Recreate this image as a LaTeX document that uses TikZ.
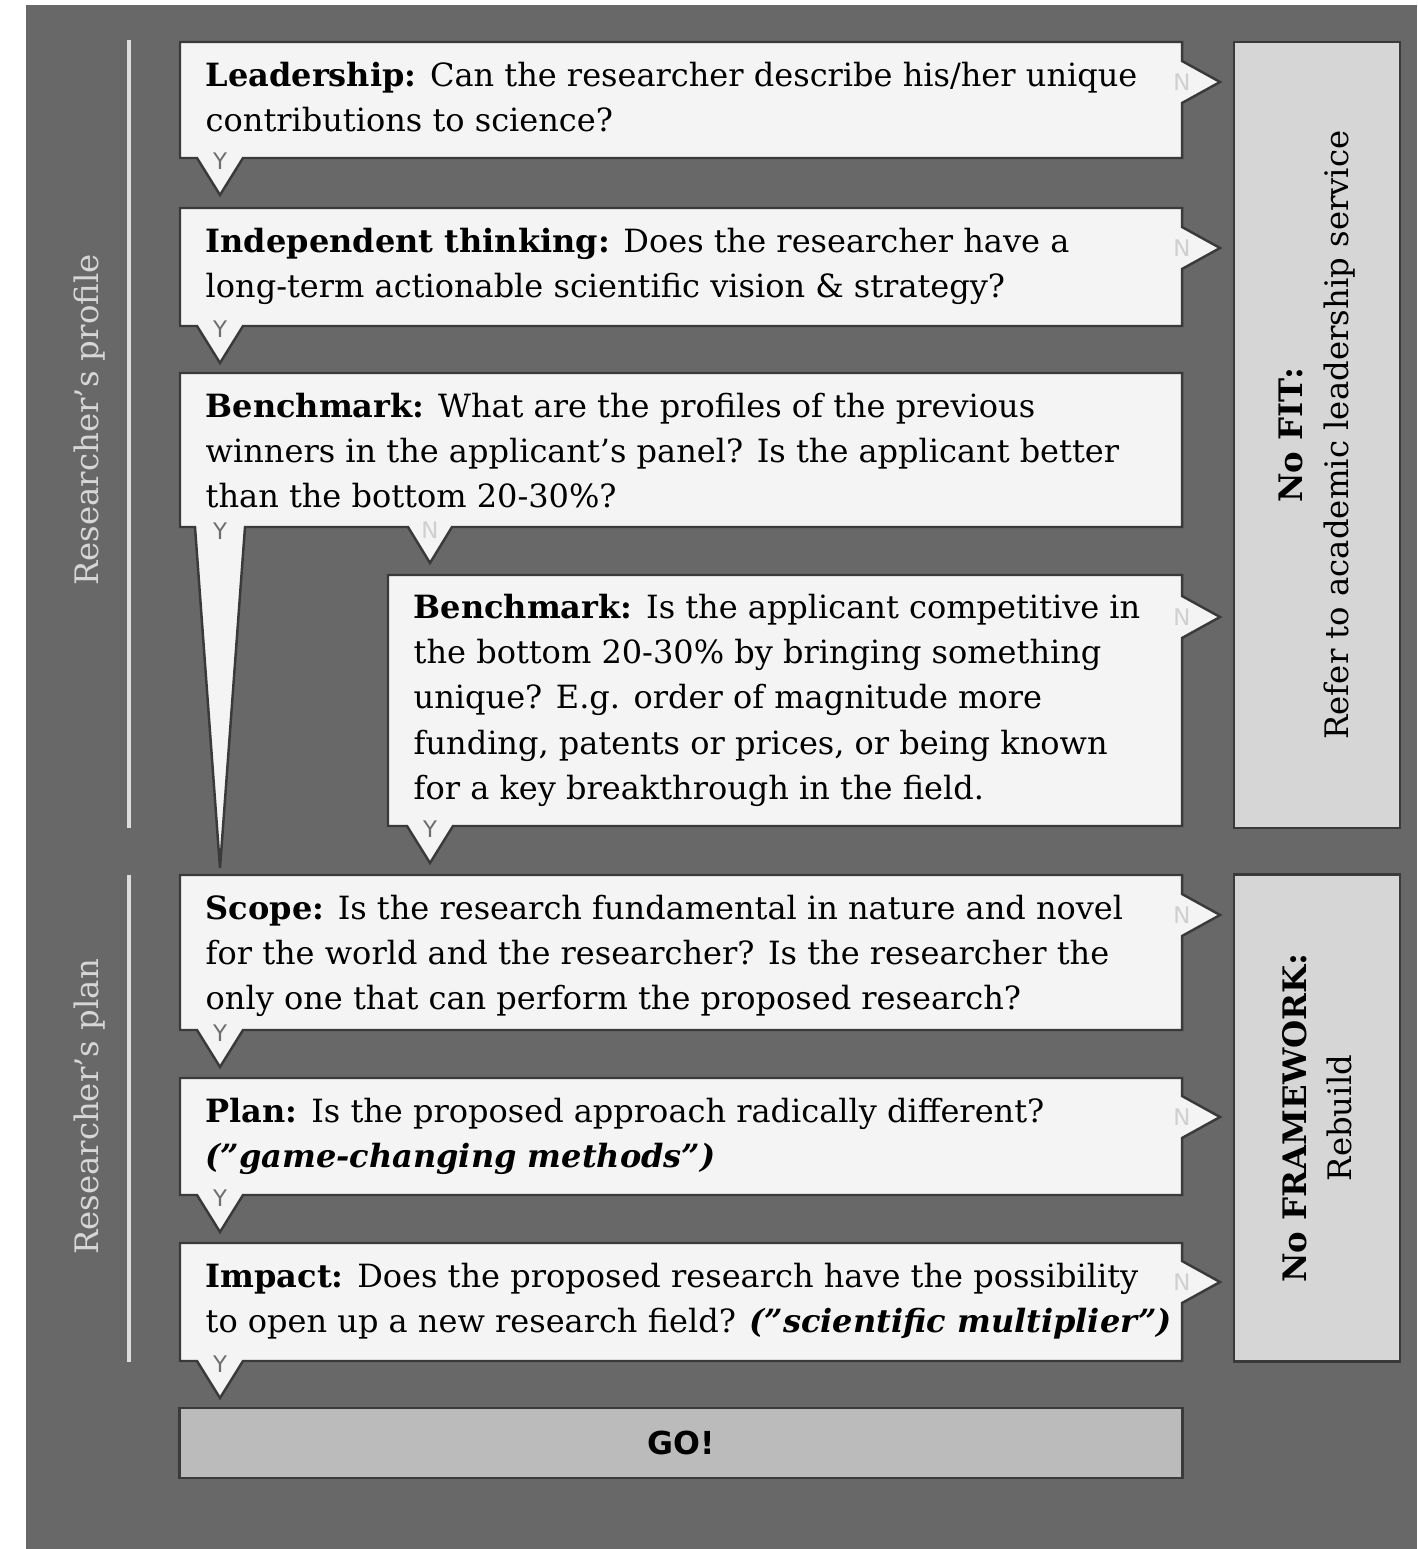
\documentclass[tikz,border=0pt]{standalone}
\usepackage{fontspec}
\setmainfont{DejaVu Serif}
\setsansfont{DejaVu Sans}
\usetikzlibrary{positioning}
\definecolor{bggray}{HTML}{686868}
\definecolor{boxfill}{HTML}{F4F4F4}
\definecolor{boxline}{HTML}{3A3A3A}
\definecolor{gofill}{HTML}{BBBBBB}
\definecolor{nofill}{HTML}{D6D6D6}
\definecolor{sideline}{HTML}{DDDDDD}
\definecolor{sidetext}{HTML}{D6D6D6}
\definecolor{ygray}{HTML}{6E6E6E}
\definecolor{ngray}{HTML}{CFCFCF}

\begin{document}
\begin{tikzpicture}[x=0.01cm, y=-0.01cm]
\tikzstyle{qbox}=[draw=boxline, fill=boxfill, line width=0.7pt, line join=miter]
\tikzstyle{qtext}=[anchor=north west, inner sep=0, align=left, font=\fontsize{9.1}{12.9}\selectfont]
\tikzstyle{yestag}=[inner sep=0, text=ygray, font=\sffamily\fontsize{6.5}{7}\selectfont]
\tikzstyle{notag}=[inner sep=0, text=ngray, font=\sffamily\fontsize{6.5}{7}\selectfont]
\tikzstyle{sidetext}=[rotate=90, inner sep=0, text=sidetext, font=\fontsize{9.2}{12.9}\selectfont]
\tikzstyle{endbox}=[draw=boxline, line width=0.7pt, rotate=90, align=center, inner sep=0, minimum height=1.66cm, font=\fontsize{9.2}{12.9}\selectfont]

\useasboundingbox (0,0) rectangle (1417,1549);
\fill[bggray] (26,5) rectangle (1417,1549);

% section rules and labels
\draw[sideline, line width=0.9pt] (129,40) -- (129,828);
\draw[sideline, line width=0.9pt] (129,875) -- (129,1362);
\node[sidetext] (profile) at (90,420) {Researcher’s profile};
\node[sidetext] (planside) at (90,1107) {Researcher’s plan};

% question boxes
\draw[qbox] (180,42) -- (1182,42) -- (1182,61) -- (1220,82) -- (1182,103) -- (1182,158) -- (243,158) -- (220,195) -- (197,158) -- (180,158) -- cycle;
\draw[qbox] (180,208) -- (1182,208) -- (1182,227) -- (1220,248) -- (1182,269) -- (1182,326) -- (243,326) -- (220,363) -- (197,326) -- (180,326) -- cycle;
\draw[qbox] (180,373) -- (1182,373) -- (1182,527) -- (452,527) -- (430,563) -- (408,527) -- (245,527) -- (220,868) -- (195,527) -- (180,527) -- cycle;
\draw[qbox] (388,575) -- (1182,575) -- (1182,596) -- (1220,617) -- (1182,638) -- (1182,826) -- (453,826) -- (430,863) -- (407,826) -- (388,826) -- cycle;
\draw[qbox] (180,875) -- (1182,875) -- (1182,894) -- (1220,915) -- (1182,936) -- (1182,1030) -- (243,1030) -- (220,1067) -- (197,1030) -- (180,1030) -- cycle;
\draw[qbox] (180,1078) -- (1182,1078) -- (1182,1096) -- (1220,1117) -- (1182,1138) -- (1182,1195) -- (243,1195) -- (220,1232) -- (197,1195) -- (180,1195) -- cycle;
\draw[qbox] (180,1243) -- (1182,1243) -- (1182,1261) -- (1220,1282) -- (1182,1303) -- (1182,1361) -- (243,1361) -- (220,1398) -- (197,1361) -- (180,1361) -- cycle;

\node[qtext] (lead) at (205,61) {\textbf{Leadership:} Can the researcher describe his/her unique\\contributions to science?};
\node[qtext] (indep) at (205,227) {\textbf{Independent thinking:} Does the researcher have a\\long-term actionable scientific vision \& strategy?};
\node[qtext] (bench) at (205,392) {\textbf{Benchmark:} What are the profiles of the previous\\winners in the applicant’s panel? Is the applicant better\\than the bottom 20-30\%?};
\node[qtext] (benchb) at (413,593) {\textbf{Benchmark:} Is the applicant competitive in\\the bottom 20-30\% by bringing something\\unique? E.g. order of magnitude more\\funding, patents or prices, or being known\\for a key breakthrough in the field.};
\node[qtext] (scope) at (205,894) {\textbf{Scope:} Is the research fundamental in nature and novel\\for the world and the researcher? Is the researcher the\\only one that can perform the proposed research?};
\node[qtext] (plan) at (205,1097) {\textbf{Plan:} Is the proposed approach radically different?\\\textbf{\textit{(”game-changing methods”)}}};
\node[qtext] (impact) at (205,1262) {\textbf{Impact:} Does the proposed research have the possibility\\to open up a new research field? \textbf{\textit{(”scientific multiplier”)}}};

% Y / N tags
\node[yestag] (lead-y) at (220,161) {Y};
\node[yestag] (indep-y) at (220,329) {Y};
\node[yestag] (bench-y) at (220,531) {Y};
\node[yestag] (benchb-y) at (430,829) {Y};
\node[yestag] (scope-y) at (220,1033) {Y};
\node[yestag] (plan-y) at (220,1198) {Y};
\node[yestag] (impact-y) at (220,1364) {Y};
\node[notag] (lead-n) at (1182,82) {N};
\node[notag] (indep-n) at (1182,248) {N};
\node[notag] (bench-n) at (430,530) {N};
\node[notag] (benchb-n) at (1182,617) {N};
\node[notag] (scope-n) at (1182,915) {N};
\node[notag] (plan-n) at (1182,1117) {N};
\node[notag] (impact-n) at (1182,1282) {N};

% outcomes
\node[draw=boxline, fill=gofill, line width=0.7pt, minimum width=10.02cm, minimum height=0.70cm, inner sep=0, font=\sffamily\bfseries\fontsize{9}{10}\selectfont] (go) at (681,1443) {GO!};
\node[endbox, fill=nofill, minimum width=7.86cm] (nofit) at (1317,435) {\textbf{No FIT:}\\Refer to academic leadership service};
\node[endbox, fill=nofill, minimum width=4.87cm] (noframe) at (1317,1118) {\textbf{No FRAMEWORK:}\\Rebuild};
\end{tikzpicture}
\end{document}
